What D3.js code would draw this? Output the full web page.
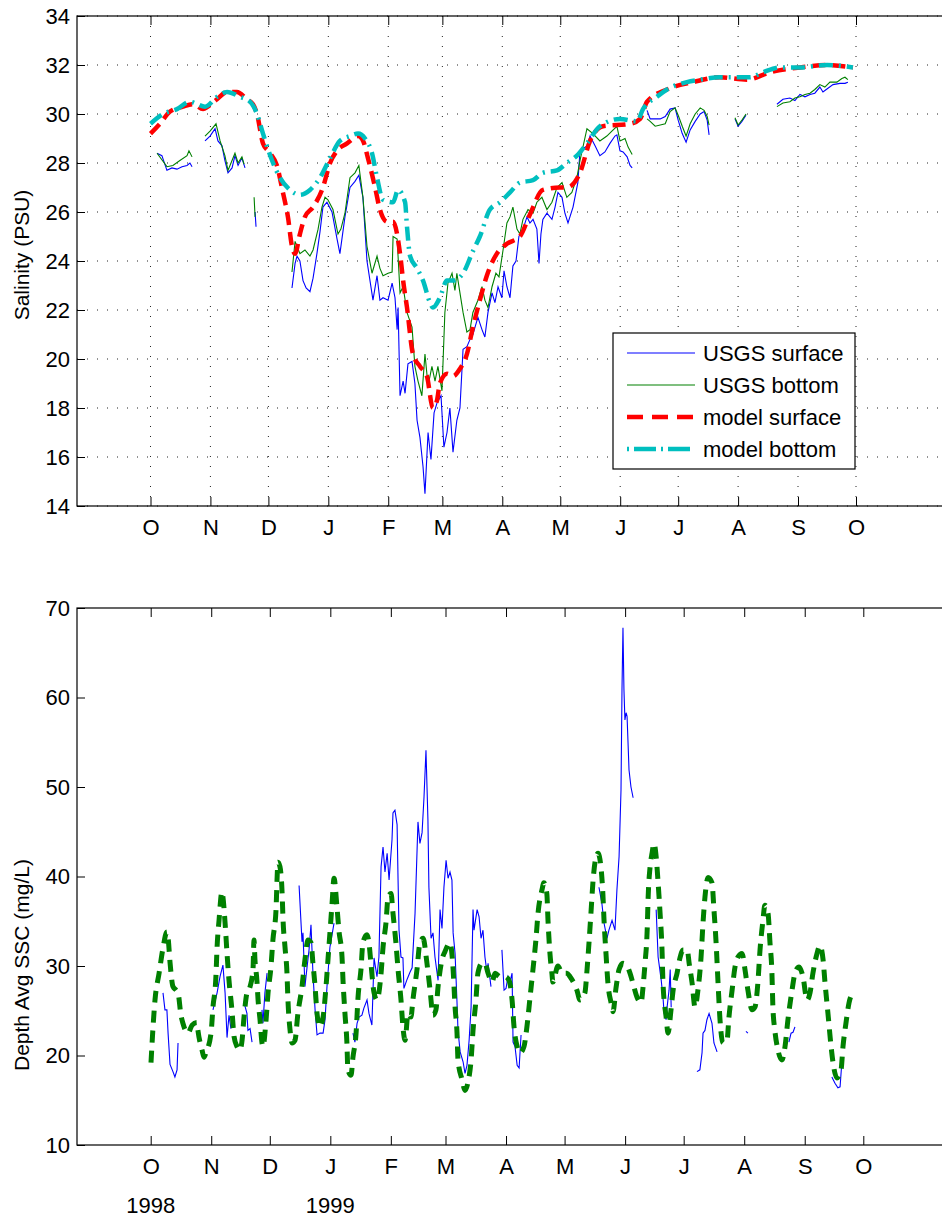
<!DOCTYPE html>
<html>
<head>
<meta charset="utf-8">
<script src="https://cdn.jsdelivr.net/npm/d3@7"></script>
<style>
body { margin: 0; background: #fff; }
svg { display: block; font-family: "Liberation Sans", Arial, Helvetica, sans-serif; }
</style>
</head>
<body>
<div id="chart"></div>
<script>
// days since 1 Oct 1998, value
var monthLabels = ["O","N","D","J","F","M","A","M","J","J","A","S","O"];
var yearLabels = [[0, "1998"], [92, "1999"]];
var salTicks = [14,16,18,20,22,24,26,28,30,32,34];
var sscTicks = [10,20,30,40,50,60,70];
var legendNames = ["USGS surface","USGS bottom","model surface","model bottom"];

var salSurf = [[3.4,28.4],[5.9,28.3],[8.5,27.7],[11.1,27.8],[13.7,27.75],[16.3,27.85],[18.9,27.9],[20.4,28.0],[21.5,27.85],null,
 [28.2,28.9],[30.8,29.1],[33.4,29.4],[34.9,28.9],[37,28.7],[38.5,28.1],[40.1,27.6],[42.2,27.8],[43.7,28.3],[45.3,27.9],[47.3,28.2],[48.9,27.8],null,
 [54.1,26.0],[54.6,25.4],null,
 [73.2,22.9],[74.8,23.9],[75.8,24.2],[77.3,24.0],[78.9,23.2],[80.5,22.9],[82.5,22.75],[84.1,23.3],[86.1,24.3],[87.7,25.2],[89.2,26.2],[91.3,26.4],[93.9,26.0],[96.5,24.9],[98,24.3],[100.6,25.8],[103.2,27.0],[105.8,27.25],[107.8,27.5],[109.9,26.6],[112,24.0],[115.1,22.4],[117.2,23.4],[118.7,22.4],[120.3,22.5],[122.9,22.4],[125,23.1],[126.5,22.5],[127.6,21.2],[128.1,22.1],[129.1,18.5],[130.7,19.1],[131.7,18.6],[133.2,19.8],[135.3,19.9],[136.8,19.0],[137.9,17.5],[139.4,16.8],[141,15.6],[142,14.5],[143.6,17.0],[145.1,15.9],[146.7,17.8],[148.2,18.2],[150.3,18.5],[151.8,16.4],[153.4,17.0],[154.9,18.0],[156.5,16.2],[158.5,17.5],[160.1,18.0],[161.7,20.4],[163.7,20.5],[165.3,20.8],[166.8,21.0],[167.9,21.3],[169.4,21.7],[171.5,21.2],[173,20.9],[174.6,21.9],[176.7,22.7],[178.2,22.3],[179.8,22.95],[181.8,22.5],[182.9,23.6],[184.4,22.95],[186,22.5],[187.5,23.8],[189.1,24.0],[190.6,25.0],[192.7,25.3],[194.8,25.8],[196.3,25.55],[197.9,25.7],[199.9,25.3],[201,23.9],[202,25.1],[203,25.7],[205.1,25.95],[207.7,25.7],[209.3,26.2],[210.8,26.8],[212.9,26.6],[214.4,25.95],[216,25.55],[218.6,26.2],[221.1,27.2],[222.2,28.5],[225.8,28.7],[227.4,29.1],[230,28.7],[232.5,28.3],[235.1,28.45],[237.7,28.8],[240.3,29.1],[241.3,29.15],[242.9,28.5],[244.5,28.45],[246.6,28.25],[248.1,27.9],[249.2,27.8],null,
 [256.9,30.15],[258.5,29.8],[261.1,29.8],[263.7,29.8],[266.3,29.9],[268.8,30.2],[271.4,30.25],[273,29.75],[275.1,29.2],[277.1,28.85],[279.2,29.35],[281.8,29.7],[284.4,30.0],[286.4,30.1],[288,29.75],[289,29.15],null,
 [302.4,29.8],[304,29.5],[306,29.7],[308.1,29.95],null,
 [324.1,30.4],[327.2,30.6],[330.8,30.65],[333.4,30.55],[336,30.8],[338.6,30.7],[341.2,30.8],[343.7,30.85],[346.3,31.1],[347.9,30.9],[350.5,31.05],[353.1,31.2],[356.7,31.25],[359.3,31.25],[360.8,31.3]];

var salBot = [[3.4,28.4],[8.5,27.85],[11.6,27.9],[15.2,28.1],[18.9,28.3],[19.9,28.5],[21.5,28.25],null,
 [28.2,29.1],[30.8,29.3],[33.9,29.6],[36,28.9],[38.5,28.3],[40.1,27.7],[43.7,28.4],[45.3,28.0],[47.3,28.25],[48.4,27.95],null,
 [53.6,26.6],[54.1,25.8],null,
 [73.2,23.55],[74.8,24.8],[77.3,24.3],[79.9,24.45],[82.5,24.2],[84.1,24.45],[86.7,25.3],[88.7,26.2],[90.3,26.6],[91.8,26.5],[94.4,26.1],[97,25.1],[98.5,25.3],[100.6,25.95],[103.2,27.4],[105.8,27.6],[107.8,27.9],[109.9,26.6],[112,24.6],[114.6,23.5],[117.2,24.2],[118.7,23.7],[120.3,23.4],[122.9,23.5],[125,23.55],[125.5,25.0],[127.6,24.9],[129.1,22.7],[130.7,22.95],[132.7,21.9],[135.3,21.3],[136.8,19.7],[138.4,19.1],[140.4,18.5],[142,20.2],[143.6,18.9],[145.6,19.7],[147.2,19.1],[148.7,19.7],[150.8,18.7],[152.3,21.9],[153.9,23.1],[156,23.5],[157.5,22.8],[158.5,23.5],[160.1,22.7],[161.7,21.9],[163.7,21.1],[165.3,21.2],[166.8,21.9],[169.4,22.4],[171.5,22.95],[173,22.4],[174.6,22.1],[176.7,22.95],[178.7,23.5],[180.3,23.35],[182.4,24.45],[184.4,25.55],[186,25.8],[187.5,26.2],[189.6,25.3],[191.1,25.1],[192.7,25.7],[195.3,26.1],[197.9,25.95],[199.9,26.4],[202.5,26.6],[205.1,26.1],[207.7,26.4],[210.3,27.0],[212.9,27.2],[215.4,26.6],[218,26.8],[220.6,27.4],[222.2,28.1],[225.8,29.4],[228.9,29.2],[232.5,28.9],[236.1,29.1],[238.7,29.3],[241.3,29.5],[242.9,28.9],[245.5,29.0],[247.1,28.65],[249.2,28.35],null,
 [256.9,29.8],[258.5,29.7],[261.1,29.5],[263.7,29.55],[266.3,29.6],[268.8,30.1],[271.4,30.25],[273,29.95],[275.1,29.5],[277.1,29.1],[279.2,29.6],[281.8,30.0],[284.4,30.25],[286.4,30.15],[288,29.9],[289,29.55],null,
 [302.4,29.85],[304,29.55],[306,29.75],[308.1,30.0],null,
 [324.1,30.3],[327.2,30.45],[330.8,30.5],[333.4,30.65],[336,30.7],[338.6,30.8],[341.2,30.85],[343.7,31.0],[346.3,31.2],[348.9,31.1],[351.5,31.3],[355.1,31.3],[357.7,31.45],[359.3,31.5],[360.8,31.4]];

var salModelSurf = [[0,29.2],[4.9,29.6],[10.1,30.1],[16.8,30.3],[22,30.4],[27.2,30.2],[29.7,30.3],[34.4,30.6],[39.6,30.9],[44.7,30.9],[49.9,30.6],[53,30.4],[55.1,30.0],[58.2,28.8],[61.9,28.4],[65.4,27.9],[68.5,26.8],[71.1,25.8],[73.2,24.6],[74.8,24.3],[77.3,25.1],[79.9,25.8],[84.1,26.2],[89.2,27.0],[92.9,28.0],[96.5,28.5],[101.7,28.8],[107.4,29.1],[110,28.9],[112.5,28.2],[116.2,27.0],[118.7,26.1],[122.4,25.6],[125.5,25.6],[129.1,24.3],[130.7,23.2],[132.7,22.1],[135.8,20.2],[139.4,19.7],[143,19.3],[146.1,18.0],[148.2,18.3],[149.7,19.0],[153.4,19.4],[156.5,19.3],[160.1,19.6],[163.7,20.2],[166.8,21.3],[170.4,22.4],[174,23.4],[179.2,24.3],[184.4,24.7],[191.1,25.0],[196.3,25.9],[203,26.9],[211.8,27.0],[215.4,27.0],[222.2,27.6],[227.4,28.9],[234.1,29.5],[248.1,29.6],[253.3,29.8],[256.9,30.5],[267.2,31.0],[280.7,31.3],[294.6,31.5],[308.6,31.4],[320.5,31.7],[336,31.9],[350,32.0],[363.4,31.9]];

var salModelBot = [[0,29.6],[6.5,30.0],[13.7,30.2],[20.4,30.5],[24.1,30.4],[28.2,30.3],[34.4,30.7],[39.6,30.9],[46.3,30.7],[51.5,30.5],[55.1,30.0],[58.2,29.2],[62.9,28.1],[67,27.4],[72.2,26.9],[77.3,26.7],[82.5,26.9],[87.7,27.4],[92.9,28.2],[98,28.9],[103.2,29.1],[107.4,29.2],[111,29.0],[114.6,28.4],[117.2,27.4],[120.3,26.5],[125.5,26.4],[128.1,26.9],[131.7,26.4],[132.7,25.4],[134.3,24.2],[137.9,23.7],[141,23.2],[144.6,22.3],[146.1,22.1],[149.7,22.5],[153.4,23.2],[156.5,23.2],[161.7,23.5],[166.8,24.4],[170.4,25.0],[175.6,26.1],[180.8,26.4],[186,26.8],[191.1,27.2],[197.9,27.3],[203,27.6],[210.3,27.7],[215.4,28.0],[220.6,28.3],[225.8,28.8],[232.5,29.5],[242.9,29.8],[251.7,29.7],[254.8,30.2],[262,30.7],[267.2,31.0],[277.5,31.3],[284.3,31.4],[294.6,31.5],[310.1,31.5],[316.8,31.7],[325.6,31.9],[336,31.9],[350,32.0],[363.4,31.9]];

var sscObs = [[6.3,27.0],[7.3,25.1],[8.3,25.1],[8.9,22.5],[9.9,19.0],[11.4,18.2],[12.4,17.6],[13.5,18.4],[14,21.4],null,
 [31.9,25.1],[34,27.0],[35.5,28.8],[37,30.1],[38.1,27.0],[39.1,22.0],[40.1,24.5],[41.1,23.0],null,
 [47.8,25.9],[49.3,24.7],[49.8,22.8],[50.9,23.0],[51.9,21.5],null,
 [57,25.1],[57.5,23.6],[58.5,27.0],[59.6,29.2],null,
 [76,39.0],[77.5,32.7],[78,33.7],[79,27.7],[80.1,29.9],[81.1,31.8],[82.1,34.6],[83.1,29.2],[84.2,25.1],[85.2,22.3],[86.7,22.5],[88.3,22.5],[89.3,24.0],[90.3,27.7],[91.8,32.1],[92.9,33.5],[93.9,34.8],null,
 [103.6,22.5],[104.6,21.5],[105.7,23.6],[106.7,24.3],[108.2,24.5],[109.2,25.3],[110.8,26.2],[111.8,24.7],[113.3,23.4],[114.4,30.9],[115.9,28.8],[116.9,31.0],[118,41.1],[119,43.3],[120,40.5],[121.1,42.6],[122.1,39.6],[123.6,44.1],[124.1,47.1],[125.1,47.4],[126.2,45.8],[126.7,39.6],[127.2,34.0],[128.2,31.0],[129.2,30.9],[129.7,27.5],[131.3,28.5],[132.8,29.3],[133.9,29.8],[135.4,35.9],[136.9,46.1],[137.9,43.7],[139,44.9],[140,48.9],[141,54.1],[142,46.3],[142.5,38.8],[143.6,33.1],[144.6,33.7],[145.6,31.0],[147.2,28.4],[148.2,36.3],[149.2,34.2],[150.2,38.8],[151.3,41.8],[152.3,39.8],[153.3,40.5],[154.3,39.6],[154.9,33.7],[155.9,31.4],[156.9,25.9],[157.4,22.8],[158.5,20.4],[160,19.3],[161,18.0],[162,18.9],[163.1,21.7],[164.1,25.4],[165.1,36.3],[165.6,34.0],[167.2,36.3],[168.2,35.5],[169.2,33.1],[170.2,34.0],[171.2,31.0],[172.3,29.2],[172.8,30.3],[174.3,27.7],null,
 [179.9,31.8],[181,27.3],[182,27.5],[183,28.8],[184,28.2],[185.1,29.2],[185.6,21.5],[186.6,21.0],[187.7,18.9],[188.7,18.6],[189.7,22.3],null,
 [229.6,38.8],[231.1,37.0],[232.2,34.8],[233.7,33.1],[234.7,34.0],[236.3,35.1],[237.8,34.0],[238.8,38.5],[239.9,42.2],[240.9,49.7],[241.4,60.9],[241.9,67.8],[242.4,60.9],[242.9,57.5],[243.5,58.3],[244,57.9],[245,51.9],[246,50.0],[247.1,48.8],null,
 [258.9,36.3],[259.9,31.0],[261.5,28.4],[262.5,26.2],[263,24.7],[264,24.0],[264.5,25.4],[265.5,27.3],[266.1,29.6],[266.6,25.4],null,
 [279.8,18.2],[281.3,18.4],[282.4,20.3],[282.9,22.5],[283.9,22.8],[284.9,24.0],[286,24.7],[287.5,23.6],[288.5,21.4],[290.1,20.4],null,
 [304.9,22.7],[305.9,22.5],null,
 [326.9,21.5],[328,22.5],[329,22.6],[330,23.2],null,
 [348.9,17.6],[350.5,16.9],[352,16.4],[353.1,16.5],[354.1,19.5]];

var sscModel = [[0.15,19.2],[1.2,23.2],[2.2,26.2],[4.3,29.2],[6.3,32.0],[8.3,33.8],[8.9,33.2],[9.9,30.4],[11.4,27.7],[13,27.3],[14,27.0],[15.5,24.5],[16.5,23.6],[19.1,22.5],[21.2,23.4],[23.7,23.7],[24.2,22.8],[26.3,20.6],[27.3,19.8],[28.3,20.3],[30.9,22.5],[31.9,25.4],[33.4,28.8],[34,32.1],[35,35.1],[36.5,38.3],[37,37.7],[38.1,34.8],[39.1,31.4],[40.1,28.4],[41.6,25.1],[42.7,22.1],[44.2,21.0],[45.7,20.6],[46.8,21.7],[47.8,24.3],[49.3,27.0],[50.9,27.7],[52.4,29.6],[52.9,32.9],[53.4,30.7],[54.4,28.4],[55,26.2],[56,24.0],[57,21.4],[57.5,21.0],[59.1,24.0],[60.1,27.0],[61.6,29.9],[62.6,32.9],[64.2,36.3],[64.7,39.6],[65.2,41.6],[66.2,41.1],[67.3,38.2],[67.8,35.1],[68.8,32.1],[69.8,29.2],[70.3,26.2],[71.4,22.8],[72.4,21.4],[73.9,21.7],[75.4,24.7],[77.5,27.7],[79,30.7],[80.6,32.9],[82.1,32.6],[83.1,30.3],[84.2,27.7],[85.2,24.7],[86.7,23.2],[88.3,24.3],[89.8,27.7],[90.8,30.7],[91.8,33.7],[92.9,37.0],[93.9,39.8],[95.4,36.6],[96.4,34.0],[98,31.0],[98.5,28.4],[99.5,24.7],[100.5,21.4],[101,18.4],[102.6,17.8],[103.6,19.8],[105.2,22.5],[106.2,26.5],[107.7,29.6],[108.7,32.6],[110.8,33.5],[111.8,32.6],[112.8,30.3],[114.4,27.0],[115.9,26.2],[118,29.2],[119,32.1],[120.5,34.8],[121.6,37.7],[123.1,38.1],[124.1,35.9],[125.6,32.6],[126.7,29.6],[128.2,26.2],[129.2,23.2],[130.3,21.7],[131.8,24.7],[133.3,24.3],[134.3,26.2],[136.4,29.6],[137.9,32.6],[139.5,33.1],[141.5,30.3],[143.1,27.3],[144.6,24.5],[146.1,25.1],[147.2,27.7],[149.2,30.7],[150.7,31.6],[153.3,32.6],[154.9,29.6],[155.9,25.4],[156.9,22.5],[157.4,19.5],[159.5,17.3],[161,16.1],[162.5,17.0],[164.1,19.5],[165.1,22.8],[166.6,26.2],[167.6,29.2],[169.7,30.3],[171.2,30.3],[172.8,29.2],[174.8,28.2],[176.4,29.2],[178.9,28.8],[181.5,28.8],[183.5,28.4],[185.1,26.2],[186.1,23.2],[187.7,21.0],[189.2,20.3],[191.2,21.0],[192.7,23.2],[194.3,26.5],[195.8,29.6],[197.3,32.9],[198.4,35.9],[200.4,38.5],[201.4,39.3],[202.9,38.1],[203.5,35.1],[204.5,31.4],[205.5,29.2],[206,28.2],[208.6,30.0],[210.7,29.2],[213.2,29.2],[214.8,28.8],[218.3,27.3],[219.9,26.2],[222.4,27.0],[223.5,29.6],[224.5,32.6],[225.5,35.9],[226.5,39.3],[228.1,42.2],[229.1,42.6],[230.6,41.1],[231.6,38.1],[232.2,35.1],[233.2,31.4],[234.2,28.1],[235.8,25.9],[236.8,24.9],[238.3,27.5],[239.9,29.6],[241.9,30.3],[244,30.0],[245.5,29.2],[247.1,28.0],[249.1,26.5],[251.2,25.9],[252.2,27.7],[253.2,30.3],[254.3,34.0],[254.8,37.7],[255.8,41.1],[256.8,42.6],[257.8,43.7],[258.9,42.2],[259.9,39.3],[260.9,35.9],[261.9,31.8],[262.4,28.1],[264,24.3],[265,22.5],[266.5,25.1],[267.6,27.3],[269.6,29.2],[271.2,31.0],[272.7,31.8],[274.8,31.8],[275.8,30.3],[277.3,28.1],[278.8,25.4],[280.3,27.3],[281.9,31.0],[282.9,34.8],[283.9,37.7],[285.5,39.9],[287.5,39.3],[288.5,36.3],[289.6,32.6],[290.6,28.1],[291.6,24.0],[293.2,21.4],[295.2,21.7],[296.2,24.3],[297.8,27.3],[299.3,29.9],[300.8,31.0],[302.9,31.4],[304.4,29.6],[305.9,27.3],[308,25.1],[309.5,25.4],[311,28.1],[312.1,31.8],[313.6,35.1],[314.6,36.8],[316.2,35.9],[317.2,32.6],[318.2,29.2],[318.7,25.4],[319.7,22.8],[321.3,20.6],[323.3,19.5],[324.9,21.0],[326.4,24.0],[328.5,27.3],[330,29.2],[332.1,29.9],[334.1,28.8],[336.2,26.2],[337.7,27.0],[339.2,29.2],[341.3,31.4],[342.8,32.3],[344.4,30.7],[345.4,28.1],[346.9,24.7],[348.5,21.0],[349.5,19.2],[351.5,17.5],[353.6,18.4],[354.6,21.0],[356.1,23.6],[357.7,25.9],[359.7,27.0]];

var W = 942, H = 1219;
var t0 = Date.UTC(1998, 9, 1);
function day(d) { return new Date(t0 + d * 864e5); }
var months = d3.utcMonth.range(new Date(t0), new Date(Date.UTC(1999, 9, 2)));

var svg = d3.select("#chart").append("svg")
  .attr("width", W)
  .attr("height", H);

// panel boxes (right edge runs off the picture)
var top1 = {left: 77, top: 16, bottom: 506, right: 980};
var top2 = {left: 77, top: 608, bottom: 1145, right: 980};

var x1 = d3.scaleUtc().domain([new Date(t0), months[12]]).range([150.5, 856]);
var y1 = d3.scaleLinear().domain([14, 34]).range([top1.bottom, top1.top]);
var x2 = d3.scaleUtc().domain([new Date(t0), months[12]]).range([150.7, 863.3]);
var y2 = d3.scaleLinear().domain([10, 70]).range([top2.bottom, top2.top]);

function styleAxis(g) {
  g.select(".domain").remove();
  g.selectAll(".tick line").attr("stroke", "#000").attr("stroke-width", 1);
  g.selectAll(".tick text").attr("fill", "#000").style("font-size", "22px");
}

function frame(b, x, y, yTicks) {
  svg.append("g")
    .attr("transform", "translate(0," + b.bottom + ")")
    .call(d3.axisBottom(x).tickValues(months).tickSizeInner(-9).tickSizeOuter(0).tickPadding(13)
      .tickFormat(function(d, i) { return monthLabels[i]; }))
    .call(styleAxis);
  svg.append("g")
    .attr("transform", "translate(0," + b.top + ")")
    .call(d3.axisTop(x).tickValues(months).tickSizeInner(-9).tickSizeOuter(0).tickFormat(""))
    .call(styleAxis);
  svg.append("g")
    .attr("transform", "translate(" + b.left + ",0)")
    .call(d3.axisLeft(y).tickValues(yTicks).tickSizeInner(-8).tickSizeOuter(0).tickPadding(7))
    .call(styleAxis);
  svg.append("rect")
    .attr("x", b.left).attr("y", b.top)
    .attr("width", b.right - b.left).attr("height", b.bottom - b.top)
    .attr("fill", "none").attr("stroke", "#000").attr("stroke-width", 1.2);
}

// ---- top: salinity ----
var grid = svg.append("g").attr("stroke", "#222").attr("stroke-width", 1).attr("stroke-dasharray", "1,9");
grid.selectAll("line.gx").data(months).enter().append("line")
  .attr("x1", function(d) { return x1(d); }).attr("x2", function(d) { return x1(d); })
  .attr("y1", top1.top).attr("y2", top1.bottom);
grid.selectAll("line.gy").data(salTicks).enter().append("line")
  .attr("x1", top1.left).attr("x2", top1.right)
  .attr("y1", function(d) { return y1(d); }).attr("y2", function(d) { return y1(d); });

var line1 = d3.line().defined(function(d) { return d; })
  .x(function(d) { return x1(day(d[0])); })
  .y(function(d) { return y1(d[1]); });
var smooth1 = d3.line().curve(d3.curveMonotoneX)
  .x(function(d) { return x1(day(d[0])); })
  .y(function(d) { return y1(d[1]); });

svg.append("path").datum(salSurf).attr("d", line1)
  .attr("fill", "none").attr("stroke", "#0000ff").attr("stroke-width", 1.1);
svg.append("path").datum(salBot).attr("d", line1)
  .attr("fill", "none").attr("stroke", "#008000").attr("stroke-width", 1.1);
svg.append("path").datum(salModelSurf).attr("d", smooth1)
  .attr("fill", "none").attr("stroke", "#ff0000").attr("stroke-width", 4.5)
  .attr("stroke-dasharray", "13,7");
svg.append("path").datum(salModelBot).attr("d", smooth1)
  .attr("fill", "none").attr("stroke", "#00bfbf").attr("stroke-width", 4.5)
  .attr("stroke-dasharray", "14,6,2,6");

frame(top1, x1, y1, salTicks);

svg.append("text")
  .attr("transform", "translate(29,255)rotate(-90)")
  .attr("text-anchor", "middle")
  .style("font-size", "21px")
  .text("Salinity (PSU)");

// legend
var legendStyles = [
  {color: "#0000ff", width: 1.1, dash: null, off: 0},
  {color: "#008000", width: 1.1, dash: null, off: 0},
  {color: "#ff0000", width: 4.5, dash: "16,9", off: 0},
  {color: "#00bfbf", width: 4.5, dash: "22,5,2,5", off: 27}
];
var lg = svg.append("g");
lg.append("rect").attr("x", 613).attr("y", 333).attr("width", 242).attr("height", 136)
  .attr("fill", "#fff").attr("stroke", "#000").attr("stroke-width", 1.2);
var item = lg.selectAll("g.item").data(legendNames).enter().append("g")
  .attr("transform", function(d, i) { return "translate(0," + (353 + i * 32) + ")"; });
item.append("line")
  .attr("x1", 627).attr("x2", 695)
  .attr("stroke", function(d, i) { return legendStyles[i].color; })
  .attr("stroke-width", function(d, i) { return legendStyles[i].width; })
  .attr("stroke-dasharray", function(d, i) { return legendStyles[i].dash; })
  .attr("stroke-dashoffset", function(d, i) { return legendStyles[i].off; });
item.append("text")
  .attr("x", 703).attr("dy", "0.35em")
  .style("font-size", "22px")
  .text(function(d) { return d; });

// ---- bottom: SSC ----
var line2 = d3.line().defined(function(d) { return d; })
  .x(function(d) { return x2(day(d[0])); })
  .y(function(d) { return y2(d[1]); });

svg.append("path").datum(sscObs).attr("d", line2)
  .attr("fill", "none").attr("stroke", "#0000ff").attr("stroke-width", 1.1);
svg.append("path").datum(sscModel).attr("d", line2.curve(d3.curveMonotoneX))
  .attr("fill", "none").attr("stroke", "#008000").attr("stroke-width", 5)
  .attr("stroke-dasharray", "12,8");

frame(top2, x2, y2, sscTicks);

svg.append("text")
  .attr("transform", "translate(29,965)rotate(-90)")
  .attr("text-anchor", "middle")
  .style("font-size", "21px")
  .text("Depth Avg SSC (mg/L)");

svg.selectAll("text.year").data(yearLabels).enter().append("text")
  .attr("x", function(d) { return x2(day(d[0])); })
  .attr("y", 1213)
  .attr("text-anchor", "middle")
  .style("font-size", "22px")
  .text(function(d) { return d[1]; });
</script>
</body>
</html>
